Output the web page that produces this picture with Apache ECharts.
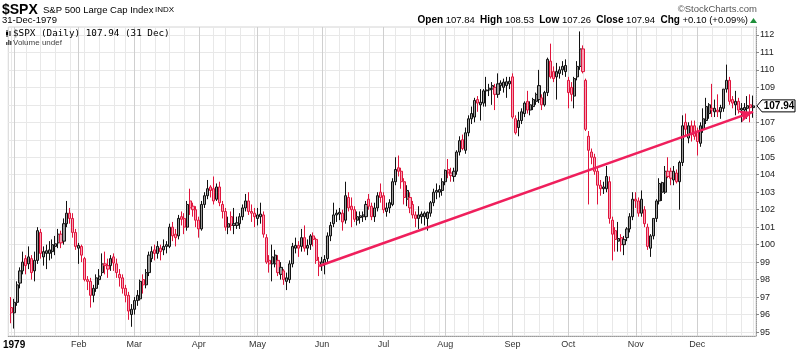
<!DOCTYPE html>
<html><head><meta charset="utf-8">
<script src="https://cdn.jsdelivr.net/npm/echarts@6/dist/echarts.min.js"></script>
<style>html,body{margin:0;padding:0;background:#fff}#c{width:800px;height:350px}</style>
</head><body><div id="c"></div>
<script>
// ---------- DATA (rows: [open, high, low, close]) ----------
const firstDay = '1978-12-29';
const holidays = ['1979-01-01','1979-02-19','1979-04-13','1979-05-28','1979-07-04','1979-09-03','1979-11-22','1979-12-25'];
const monthNames = ['Jan','Feb','Mar','Apr','May','Jun','Jul','Aug','Sep','Oct','Nov','Dec'];
const yTicks = [95,96,97,98,99,100,101,102,103,104,105,106,107,108,109,110,111,112];

const dec78 = [[96.4,97.0,95.5,96.1]];
const jan = [
[96.1,96.9,95.2,96.7],[96.7,97.9,96.5,97.7],[97.8,98.7,97.5,98.5],[98.5,99.6,98.3,99.0],[99.2,99.4,98.3,98.8],
[98.9,99.9,98.6,99.3],[99.2,99.4,98.0,98.4],[98.5,99.6,97.9,99.1],[99.1,101.0,98.9,100.8],[100.7,100.9,99.2,99.5],
[99.3,99.9,98.8,99.6],[99.5,100.0,98.6,99.65],[99.5,100.2,99.1,99.7],[99.6,100.3,99.2,100.0],[99.9,100.5,99.4,100.05],
[100.1,100.9,99.8,100.6],[100.6,100.8,99.8,100.1],[100.2,101.5,100.0,101.2],[101.2,102.5,101.0,101.8],[101.8,102.1,101.2,101.5],
[101.5,101.8,100.4,100.7],[100.7,100.9,99.7,99.9]];
const feb = [
[99.8,100.1,98.9,99.95],[99.9,100.0,99.0,99.4],[99.2,99.3,97.9,98.0],[98.0,98.2,97.4,97.9],[97.9,98.1,96.4,97.1],
[97.1,97.7,96.7,97.5],[97.5,98.3,97.3,98.1],[98.0,98.6,97.7,98.2],[98.4,99.5,98.2,98.9],[98.9,99.6,98.3,98.8],
[98.8,99.2,98.1,98.6],[98.8,99.4,98.5,99.2],[99.3,99.5,98.5,98.95],[98.9,99.2,98.1,98.4],[98.3,98.6,97.6,98.1],
[98.1,98.3,97.2,97.5],[97.5,97.7,96.7,97.1],[97.1,97.3,95.7,96.2],[96.0,96.6,95.3,96.3]];
const mar = [
[96.3,97.0,96.0,96.8],[96.8,97.4,96.5,97.1],[96.9,98.0,96.8,97.9],[98.0,98.3,97.2,97.7],[97.7,98.6,97.5,98.4],
[98.4,99.6,98.2,99.4],[99.2,99.9,99.0,99.6],[99.7,100.0,99.1,99.5],[99.5,100.2,99.2,99.9],[99.8,100.0,99.1,99.6],
[99.7,100.3,99.4,99.9],[99.9,100.2,99.5,100.0],[99.9,101.2,99.8,101.0],[101.0,101.3,100.2,100.5],[100.6,100.9,99.9,100.4],
[100.5,101.7,100.3,101.5],[101.6,101.9,101.1,101.45],[101.5,101.8,100.6,101.0],[101.0,102.5,100.8,102.3],[102.5,103.2,101.7,102.1],
[102.2,102.4,101.6,102.0],[102.0,102.2,101.0,101.4]];
const apr = [
[101.4,101.6,100.4,100.9],[100.9,102.5,100.8,102.3],[102.3,103.0,102.1,102.8],[102.8,103.7,102.6,103.2],[103.3,103.4,102.7,103.1],
[103.2,103.9,102.3,102.5],[102.6,103.5,102.5,103.3],[103.3,103.6,102.2,102.4],[102.3,102.5,101.5,101.9],[101.9,102.1,100.8,101.0],
[101.0,101.6,100.6,101.2],[101.6,101.9,100.8,101.1],[101.1,102.1,100.6,101.2],[101.1,101.6,100.9,101.25],[101.2,101.8,100.9,101.6],
[101.6,102.3,101.4,102.1],[102.1,102.9,101.9,102.5],[102.5,103.0,101.7,101.9],[101.9,102.3,101.3,101.8],[101.8,102.1,101.0,101.6]];
const may = [
[101.5,102.1,101.1,101.7],[101.6,102.4,101.2,101.75],[101.7,101.9,100.4,100.6],[100.4,100.6,98.9,99.0],[99.1,99.4,98.4,98.9],
[98.9,100.0,97.9,99.3],[98.9,99.7,98.7,99.4],[99.1,99.4,98.2,98.4],[98.3,99.0,98.0,98.7],[98.5,98.6,97.7,98.0],
[97.9,98.4,97.4,98.1],[98.0,99.1,97.8,98.9],[98.9,100.1,98.7,99.9],[99.8,100.4,99.5,99.95],[99.95,100.2,99.3,99.8],
[99.9,100.9,99.6,100.4],[100.4,101.1,99.6,99.8],[99.8,100.3,99.4,99.95],[100.0,100.6,99.7,100.5],[100.5,100.7,99.9,100.3],
[100.3,100.4,98.9,99.1],[99.0,99.3,98.2,98.8]];
const jun = [
[98.8,99.3,98.5,99.0],[98.9,99.4,98.3,99.15],[99.2,100.7,99.0,100.5],[100.5,101.3,100.2,101.1],[101.2,102.4,101.0,101.7],
[101.7,102.0,101.3,101.8],[101.75,102.1,101.4,101.85],[101.8,102.0,100.8,101.3],[101.4,103.6,101.2,102.8],[102.7,103.0,101.9,102.1],
[102.2,102.7,101.0,102.0],[102.0,102.2,101.3,101.45],[101.4,101.9,101.1,101.6],[101.55,101.9,101.2,101.65],[101.6,101.9,101.3,101.7],
[101.6,102.5,101.4,102.3],[102.6,102.9,102.0,102.2],[102.2,102.4,101.4,101.6],[101.6,102.4,101.3,102.1],[102.1,103.0,101.9,102.8],
[103.0,103.5,102.4,102.7]];
const jul = [
[102.8,103.0,101.8,102.0],[101.9,102.4,101.6,102.1],[102.1,102.6,101.8,102.4],[102.3,103.8,102.2,103.6],[103.6,105.0,103.4,104.3],
[104.4,105.1,103.9,104.2],[104.2,104.4,103.2,103.6],[103.6,103.8,102.3,102.7],[102.6,103.4,102.2,103.1],[102.7,103.0,101.8,102.1],
[102.3,102.5,101.5,101.7],[101.7,101.9,101.0,101.5],[101.5,102.2,100.9,101.7],[101.6,101.9,101.2,101.75],[101.6,101.9,101.1,101.8],
[101.5,101.9,100.8,101.85],[101.8,102.5,101.6,102.4],[102.4,103.2,102.2,103.0],[103.0,103.5,102.6,103.1],[103.0,103.4,102.7,103.15],
[103.1,103.8,102.8,103.6]];
const aug = [
[103.6,104.3,103.4,104.25],[104.3,104.9,103.8,104.1],[104.1,104.4,103.6,103.95],[103.9,104.4,103.6,104.2],[104.2,105.4,104.0,105.3],
[105.3,106.2,105.1,105.95],[106.0,106.3,105.4,105.5],[105.4,106.7,105.2,106.4],[106.4,107.4,106.2,107.2],[107.2,107.9,106.9,107.5],
[107.3,108.4,107.0,108.25],[108.3,108.5,107.6,108.1],[108.0,108.9,107.1,108.15],[108.1,108.9,107.9,108.8],[108.8,109.6,107.9,108.85],
[108.85,109.2,108.5,108.95],[108.9,109.3,108.0,109.1],[109.0,109.2,107.7,108.6],[108.6,109.8,108.4,109.2],[109.1,109.4,108.8,109.25],
[109.0,109.5,108.7,109.3],[109.1,109.6,108.4,109.32],[109.2,109.6,108.9,109.35]];
const sep = [
[109.6,109.8,107.2,107.3],[107.2,107.4,106.3,106.4],[106.7,107.6,106.2,107.1],[107.1,107.8,106.9,107.6],[107.5,108.2,107.3,108.1],
[108.2,108.8,107.5,107.7],[107.7,108.2,107.4,108.0],[107.9,108.4,107.7,108.3],[108.2,108.7,108.0,108.6],[108.3,110.0,108.1,109.1],
[108.4,108.6,107.7,108.0],[108.0,108.8,107.9,108.7],[108.7,110.7,108.5,110.6],[110.5,111.5,109.5,109.6],[109.9,110.2,109.3,109.5],
[109.6,110.4,108.3,109.9],[109.8,110.2,109.5,110.0],[110.0,110.5,109.7,110.2],[109.9,110.6,109.6,110.25]];
const oct = [
[109.4,109.6,107.8,108.7],[109.0,109.3,108.2,108.6],[108.5,109.6,107.8,109.5],[109.6,110.5,109.4,110.2],[110.2,112.2,110.0,111.2],
[111.2,111.4,109.8,109.9],[109.4,109.5,106.5,106.6],[106.2,106.5,102.3,105.4],[105.3,105.5,104.6,105.0],[105.0,105.2,104.0,104.2],
[104.2,104.4,102.3,103.4],[103.4,103.7,102.8,103.2],[103.2,103.6,102.9,103.3],[103.2,104.5,103.0,103.9],[103.6,103.9,101.2,101.5],
[101.4,101.6,99.1,100.6],[100.8,101.0,99.6,100.3],[100.2,101.3,99.6,100.35],[100.4,100.6,99.6,100.0],[100.0,100.5,99.4,100.3],
[100.4,101.0,100.2,100.9],[100.9,101.8,100.7,101.6],[101.6,103.0,101.4,102.6]];
const nov = [
[102.6,103.0,102.1,102.5],[102.5,102.7,101.6,101.8],[101.8,103.1,101.6,102.6],[102.0,102.2,101.0,101.2],[101.0,101.2,99.7,99.9],
[99.8,100.6,99.3,100.5],[100.5,101.5,100.3,101.5],[101.5,102.6,101.3,102.5],[102.5,103.8,102.3,103.5],[103.0,103.6,102.5,103.55],
[103.0,104.5,102.9,104.2],[104.2,105.0,103.8,103.9],[104.2,104.4,103.4,103.8],[103.7,104.5,103.4,104.2],[104.1,104.3,103.5,103.6],
[103.6,104.8,102.0,104.7],[104.7,107.4,104.5,106.8],[107.0,107.5,106.2,106.6],[106.1,107.0,105.8,106.8],[106.8,107.1,105.9,106.3],
[106.8,107.1,106.0,106.2]];
const dec = [
[106.5,106.7,105.1,105.9],[105.8,107.0,105.6,106.8],[106.6,107.8,106.4,107.2],[107.1,108.4,106.9,107.9],[107.5,108.1,107.2,108.0],
[107.7,109.2,107.3,107.8],[107.6,108.3,107.3,107.8],[107.6,108.6,107.3,107.7],[107.6,108.0,107.2,107.85],[107.8,108.9,107.6,108.9],
[108.9,110.3,108.7,109.4],[109.4,109.6,108.0,108.2],[108.3,108.5,107.8,108.1],[108.0,108.8,107.4,108.2],[108.2,108.4,107.5,107.7],
[107.7,108.1,107.0,107.8],[107.7,108.1,107.2,107.85],[107.8,108.5,107.2,107.95],[108.0,108.6,107.0,107.84],[107.84,108.53,107.26,107.94]];

const trendStart = ['1979-05-31', 98.78];
const trendEnd = ['1979-12-31', 107.6];
const lastClose = 107.94;

// ---------- BUILD ----------
function tradingDays() {
  const out = [firstDay];
  for (let t = Date.UTC(1979,0,1); t <= Date.UTC(1979,11,31); t += 86400000) {
    const d = new Date(t), dow = d.getUTCDay(), s = d.toISOString().slice(0,10);
    if (dow === 0 || dow === 6 || holidays.includes(s)) continue;
    out.push(s);
  }
  return out;
}
const dates = tradingDays();
const rows = [].concat(dec78, jan, feb, mar, apr, may, jun, jul, aug, sep, oct, nov, dec);
const categories = ['padL'].concat(dates, ['padR']);

const BLACK = '#111111', RED = '#e0143c', HOLLOW = '#9a9a9a';
const items = [{value:['-','-','-','-']}];
rows.forEach((r, i) => {
  const [o,h,l,c] = r;
  const prev = i > 0 ? rows[i-1][3] : o;
  const stroke = c >= prev ? BLACK : RED;
  const upFill = c >= prev ? HOLLOW : '#f7a0b4';
  items.push({value:[o,c,l,h], itemStyle:{color:upFill, color0:stroke, borderColor:stroke, borderColor0:stroke, borderWidth:1}});
});
items.push({value:['-','-','-','-']});

function weekIdx(s){ return Math.floor((Date.parse(s)/86400000 + 3)/7); }
function isWeekStart(i){
  const s = categories[i]; if (!s || s.startsWith('pad')) return false;
  const p = categories[i-1]; if (!p || p.startsWith('pad')) return true;
  return weekIdx(s) !== weekIdx(p);
}
function isMonthStart(i){
  const s = categories[i]; if (!s || s.startsWith('pad') || s < '1979-01-01') return false;
  const p = categories[i-1];
  return !p || p.startsWith('pad') || p.slice(0,7) !== s.slice(0,7);
}

const FONT = 'Liberation Sans, Arial, sans-serif';
const chart = echarts.init(document.getElementById('c'), null, {renderer:'canvas', width:800, height:350});
const GL = 8, GT = 27, GW = 748, GH = 312;
chart.setOption({
  animation:false,
  backgroundColor:'#ffffff',
  grid:{left:GL, top:GT, width:GW, height:GH, show:true, borderColor:'#d4d4d4', borderWidth:1},
  xAxis:[{
    type:'category', data:categories, boundaryGap:false,
    axisLine:{show:true, lineStyle:{color:'#9a9a9a', type:'dotted', width:1}},
    axisTick:{show:false},
    axisLabel:{interval:(i)=>isMonthStart(i), margin:4, fontSize:9, color:'#333', fontFamily:FONT,
      formatter:(v)=>{ const m = +v.slice(5,7); return m===1 ? '{y|1979}' : monthNames[m-1]; },
      rich:{y:{fontWeight:'bold', fontSize:10, color:'#000', fontFamily:FONT}}},
    splitLine:{show:true, interval:(i)=>isWeekStart(i), lineStyle:{color:'#e8e8e8', width:1}}
  },{
    type:'category', data:categories, boundaryGap:false, position:'bottom',
    axisLine:{show:false}, axisTick:{show:false}, axisLabel:{show:false},
    splitLine:{show:true, interval:(i)=>isMonthStart(i), lineStyle:{color:'#cfcfcf', width:1}}
  }],
  yAxis:{
    type:'value', position:'right', min:94.773, max:112.453,
    axisLine:{show:true, lineStyle:{color:'#9a9a9a', type:'dotted'}},
    axisTick:{show:true, length:3, customValues:yTicks, lineStyle:{color:'#888'}},
    axisLabel:{customValues:yTicks, fontSize:9, color:'#222', margin:4, fontFamily:FONT},
    splitLine:{show:true, customValues:yTicks, lineStyle:{color:'#e8e8e8', width:1}}
  },
  series:[{
    type:'candlestick', xAxisIndex:0, yAxisIndex:0, data:items, barWidth:2.6,
    markLine:{silent:true, symbol:['none','arrow'], symbolSize:[9,14],
      lineStyle:{color:'#ef1f5c', width:2.5, type:'solid'}, label:{show:false},
      emphasis:{disabled:true},
      data:[[{coord:trendStart},{coord:trendEnd}]]}
  }]
});

const yTag = chart.convertToPixel({yAxisIndex:0}, lastClose);
chart.setOption({graphic:[
  {type:'text', x:2, y:3, style:{text:'$SPX', font:'bold 14px '+FONT, fill:'#000'}},
  {type:'text', x:43, y:5, style:{text:'S&P 500 Large Cap Index', font:'9.5px '+FONT, fill:'#000'}},
  {type:'text', x:155, y:6, style:{text:'INDX', font:'8px '+FONT, fill:'#000'}},
  {type:'text', x:2, y:15, style:{text:'31-Dec-1979', font:'9.5px '+FONT, fill:'#000'}},
  {type:'text', x:757, y:4, style:{text:'©StockCharts.com', font:'9.5px '+FONT, fill:'#555', align:'right'}},
  {type:'text', x:748, y:15, style:{
    text:'{b|Open} 107.84  {b|High} 108.53  {b|Low} 107.26  {b|Close} 107.94  {b|Chg} +0.10 (+0.09%)',
    font:'9.5px '+FONT, fill:'#000', align:'right',
    rich:{b:{fontWeight:'bold', fontSize:10, fontFamily:FONT, fill:'#000'}}}},
  {type:'polygon', shape:{points:[[750,23],[753.5,18],[757,23]]}, style:{fill:'#1f8f3a'}},
  {type:'text', x:13, y:29, style:{text:'$SPX (Daily) 107.94 (31 Dec)', font:'9.3px DejaVu Sans Mono, monospace', fill:'#000'}},
  {type:'text', x:13, y:38.5, style:{text:'Volume undef', font:'8px '+FONT, fill:'#444'}},
  {type:'line', shape:{x1:7,y1:30,x2:7,y2:37}, style:{stroke:'#000', lineWidth:1}},
  {type:'rect', shape:{x:6,y:32,width:2,height:3}, style:{fill:'#000'}},
  {type:'line', shape:{x1:10,y1:31,x2:10,y2:36}, style:{stroke:'#000', lineWidth:1}},
  {type:'rect', shape:{x:6,y:42,width:1.5,height:3}, style:{fill:'#555'}},
  {type:'rect', shape:{x:8,y:40,width:1.5,height:5}, style:{fill:'#555'}},
  {type:'rect', shape:{x:10,y:41,width:1.5,height:4}, style:{fill:'#555'}},
  {type:'polygon', shape:{points:[[757,yTag],[762,yTag-6],[795,yTag-6],[795,yTag+6],[762,yTag+6]]},
    style:{fill:'#fff', stroke:'#000', lineWidth:1}, z:100},
  {type:'text', x:779, y:yTag, z:101, style:{text:lastClose.toFixed(2), font:'bold 10px '+FONT, fill:'#000', align:'center', verticalAlign:'middle'}}
]});
</script></body></html>
